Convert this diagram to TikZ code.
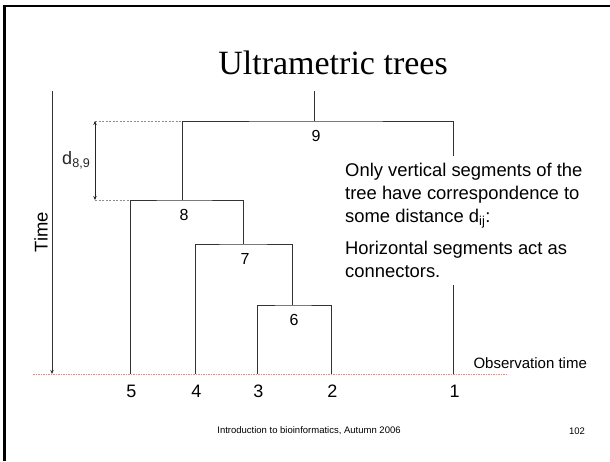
\documentclass[tikz,border=0pt]{standalone}
\usepackage{fontspec}
\setmainfont{Liberation Sans}
\newfontfamily\titlefont{Liberation Serif}
\usetikzlibrary{positioning, arrows.meta}
\definecolor{obsred}{RGB}{244,135,115}

\begin{document}
\begin{tikzpicture}[x=1pt, y=-1pt,
    branch/.style={draw=black!80, line width=0.9pt},
    distline/.style={draw=black!45, line width=0.8pt, dash pattern=on 2pt off 1.5pt},
    inlbl/.style={font=\fontsize{16}{19}\selectfont, anchor=base},
    leaflbl/.style={font=\fontsize{18}{21}\selectfont, anchor=base}]
    \useasboundingbox (0,0) rectangle (610,461);
    %cornice
    \draw[line width=2.5pt] (4.7,461) -- (4.7,6) -- (612,6);
    %titolo
    \node[font=\titlefont\fontsize{34}{40}\selectfont, anchor=base] (title) at (333,74) {Ultrametric trees};
    %linea di osservazione
    \coordinate (obsl) at (33,374);
    \coordinate (obsr) at (507,374);
    \draw[obsred, line width=1pt, dash pattern=on 1.5pt off 1pt] (obsl) -- (obsr);
    \node[font=\fontsize{15}{18}\selectfont, anchor=base west] (obstext) at (470,368) {Observation time};
    %nodi interni
    \coordinate (top) at (314,91);
    \coordinate (n9) at (314,121);
    \coordinate (n8) at (182,200);
    \coordinate (n7) at (243,244);
    \coordinate (n6) at (292,305);
    %foglie
    \foreach \x/\n in {130/5, 195/4, 257/3, 331/2, 453/1}{
        \coordinate (l\n) at (\x,374);
        \node[leaflbl] (t\n) at ([xshift=1.5pt, yshift=-23pt]l\n) {\n};
    }
    %disegno albero
    \draw[branch] (top) -- (n9);
    \draw[branch] (n8) |- (n9) -| (l1);
    \draw[branch] (l5) |- (n8) -| (n7);
    \draw[branch] (l4) |- (n7) -| (n6);
    \draw[branch] (l3) |- (n6) -| (l2);
    \foreach \n in {9,8,7,6}
        \node[inlbl] (k\n) at ([xshift=2pt, yshift=-20pt]n\n) {\n};
    %asse del tempo
    \coordinate (ttop) at (52,91);
    \coordinate (tbot) at (52,374);
    \draw[black!80, line width=0.8pt, -{Stealth[length=4pt, width=3.5pt]}] (ttop) -- (tbot);
    \node[rotate=90, font=\fontsize{18.4}{22}\selectfont] (time) at (41,232) {Time};
    %distanza d_{8,9}
    \coordinate (da) at (95,121);
    \coordinate (db) at (95,200);
    \draw[distline] (da) -- (n8 |- n9);
    \draw[distline] (db) -- (l5 |- n8);
    \draw[black!85, line width=0.8pt, {Stealth[length=4pt, width=3.5pt]}-{Stealth[length=4pt, width=3.5pt]}] (da) -- (db)
        node[midway, left=1pt, font=\fontsize{18}{21}\selectfont] (d89) {d\textsubscript{8,9}};
    %testo
    \node[fill=white, align=left, anchor=north west, inner xsep=1pt, inner ysep=7pt,
        font=\fontsize{18.4}{23}\selectfont] (note) at (344,156)
        {Only vertical segments of the\\ tree have correspondence to\\ some distance d\textsubscript{ij}:\\[9pt]
         Horizontal segments act as\\ connectors.};
    %pie di pagina
    \node[font=\fontsize{9.5}{11}\selectfont] (foot) at (309,431) {Introduction to bioinformatics, Autumn 2006};
    \node[font=\fontsize{9.5}{11}\selectfont] (page) at (577,431) {102};
\end{tikzpicture}
\end{document}
